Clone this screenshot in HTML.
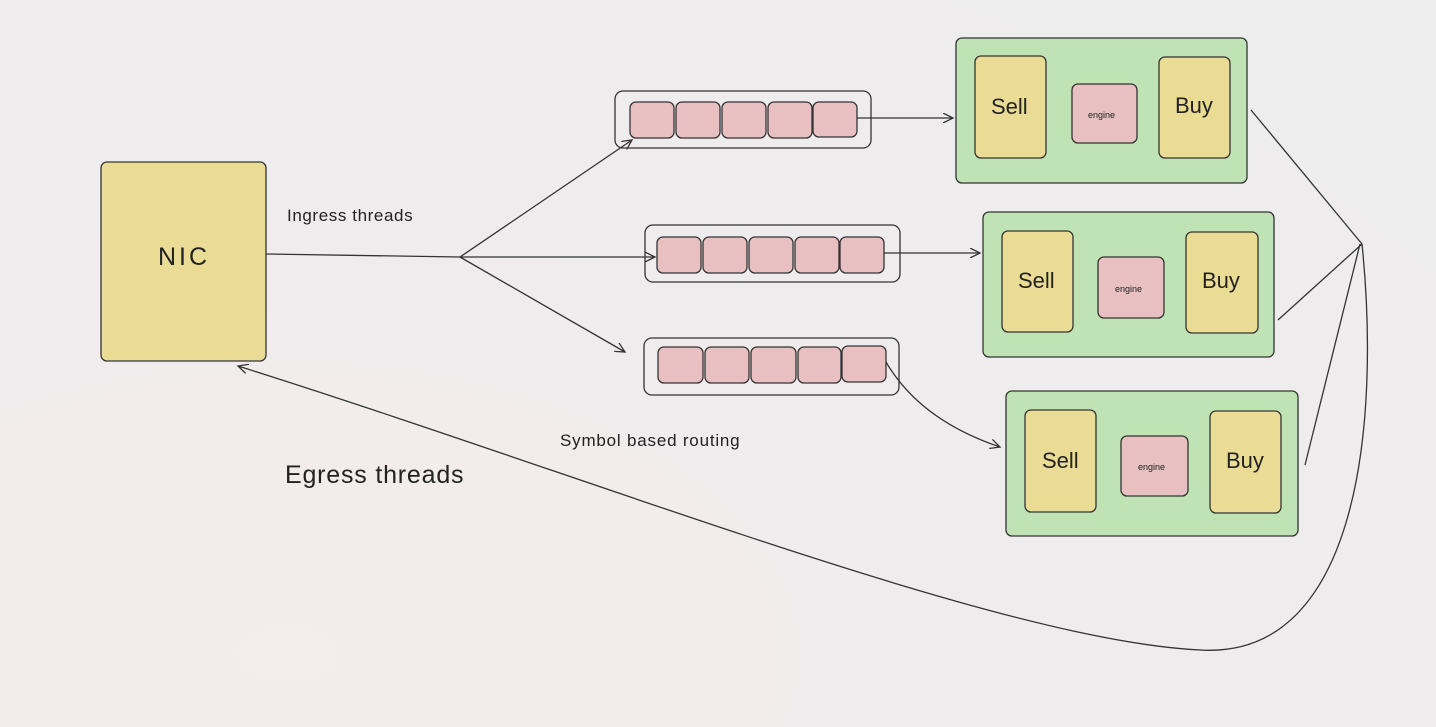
<!DOCTYPE html>
<html><head><style>
html,body{margin:0;padding:0;}
body{width:1436px;height:727px;overflow:hidden;background:radial-gradient(ellipse at 20% 90%,#f5ecec 0%,#efeced 50%,#eeeded 100%);font-family:"Liberation Sans",sans-serif;}
svg{position:absolute;left:0;top:0}
text{font-family:"Comic Sans MS","Liberation Sans",sans-serif;fill:#222}
</style></head><body>
<svg width="1436" height="727" viewBox="0 0 1436 727">
<defs><marker id="a" markerWidth="12" markerHeight="10" refX="10" refY="5" orient="auto" markerUnits="userSpaceOnUse"><path d="M0,0 L10,5 L0,10" fill="none" stroke="#333" stroke-width="1.3"/></marker></defs>
<g stroke="#333" stroke-width="1.3">
<rect x="101" y="162" width="165" height="199" rx="6" fill="#ebdc95"/>
<rect x="615" y="91" width="256" height="57" rx="8" fill="none"/>
<g fill="#e8c0c1"><rect x="630" y="102" width="44" height="36" rx="6"/><rect x="676" y="102" width="44" height="36" rx="6"/><rect x="722" y="102" width="44" height="36" rx="6"/><rect x="768" y="102" width="44" height="36" rx="6"/><rect x="813" y="102" width="44" height="35" rx="6"/></g>
<rect x="645" y="225" width="255" height="57" rx="8" fill="none"/>
<g fill="#e8c0c1"><rect x="657" y="237" width="44" height="36" rx="6"/><rect x="703" y="237" width="44" height="36" rx="6"/><rect x="749" y="237" width="44" height="36" rx="6"/><rect x="795" y="237" width="44" height="36" rx="6"/><rect x="840" y="237" width="44" height="36" rx="6"/></g>
<rect x="644" y="338" width="255" height="57" rx="8" fill="none"/>
<g fill="#e8c0c1"><rect x="658" y="347" width="45" height="36" rx="6"/><rect x="705" y="347" width="44" height="36" rx="6"/><rect x="751" y="347" width="45" height="36" rx="6"/><rect x="798" y="347" width="43" height="36" rx="6"/><rect x="842" y="346" width="44" height="36" rx="6"/></g>
<rect x="956" y="38" width="291" height="145" rx="6" fill="#bfe3b4"/>
<rect x="975" y="56" width="71" height="102" rx="6" fill="#ebdc95"/>
<rect x="1072" y="84" width="65" height="59" rx="6" fill="#e8c0c1"/>
<rect x="1159" y="57" width="71" height="101" rx="6" fill="#ebdc95"/>
<rect x="983" y="212" width="291" height="145" rx="6" fill="#bfe3b4"/>
<rect x="1002" y="231" width="71" height="101" rx="6" fill="#ebdc95"/>
<rect x="1098" y="257" width="66" height="61" rx="6" fill="#e8c0c1"/>
<rect x="1186" y="232" width="72" height="101" rx="6" fill="#ebdc95"/>
<rect x="1006" y="391" width="292" height="145" rx="6" fill="#bfe3b4"/>
<rect x="1025" y="410" width="71" height="102" rx="6" fill="#ebdc95"/>
<rect x="1121" y="436" width="67" height="60" rx="6" fill="#e8c0c1"/>
<rect x="1210" y="411" width="71" height="102" rx="6" fill="#ebdc95"/>
</g>
<g stroke="#333" stroke-width="1.3" fill="none">
<path d="M266,254 L460,257"/>
<path d="M460,257 L632,140" marker-end="url(#a)"/>
<path d="M460,257 L655,257" marker-end="url(#a)"/>
<path d="M460,257 L625,352" marker-end="url(#a)"/>
<path d="M857,118 L953,118" marker-end="url(#a)"/>
<path d="M884,253 L980,253" marker-end="url(#a)"/>
<path d="M886,362 Q920,420 1000,447" marker-end="url(#a)"/>
<path d="M1251,110 L1362,244"/>
<path d="M1278,320 L1362,244"/>
<path d="M1305,465 L1360,244"/>
<path d="M1362,244 C1380,420 1360,660 1200,650 C1000,640 600,480 238,366" marker-end="url(#a)"/>
</g>
<text x="158" y="265" font-size="25" letter-spacing="3">NIC</text>
<text x="287" y="221" font-size="17" letter-spacing="0.6">Ingress threads</text>
<text x="560" y="446" font-size="17" letter-spacing="0.8">Symbol based routing</text>
<text x="285" y="483" font-size="25" letter-spacing="0.8">Egress threads</text>
<text x="991" y="114" font-size="22">Sell</text>
<text x="1175" y="113" font-size="22">Buy</text>
<text x="1088" y="118" font-size="9">engine</text>
<text x="1018" y="288" font-size="22">Sell</text>
<text x="1202" y="288" font-size="22">Buy</text>
<text x="1115" y="292" font-size="9">engine</text>
<text x="1042" y="468" font-size="22">Sell</text>
<text x="1226" y="468" font-size="22">Buy</text>
<text x="1138" y="470" font-size="9">engine</text>
</svg>
</body></html>
